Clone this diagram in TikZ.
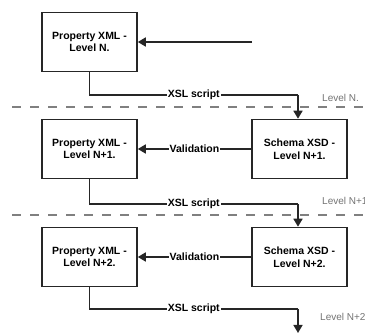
\documentclass[tikz,border=0pt]{standalone}
\usepackage{fontspec}
\setmainfont{Liberation Sans}
\usetikzlibrary{arrows.meta}
\begin{document}
\begin{tikzpicture}[x=1pt,y=-1pt,
  box/.style={draw=black!85,line width=1.6pt,minimum width=95pt,minimum height=59pt,align=center,inner sep=0pt,font=\fontsize{10.5}{12.8}\selectfont\bfseries},
  conn/.style={draw=black!85,line width=1.7pt},
  arr/.style={conn,-{Triangle[length=8pt,width=9pt]}},
  lbl/.style={fill=white,inner sep=1pt,font=\fontsize{10.5}{12}\selectfont\bfseries},
  lev/.style={anchor=west,text=black!55,inner sep=0pt,font=\fontsize{10}{12}\selectfont},
  sep/.style={draw=black!50,line width=1.2pt,dash pattern=on 9pt off 9pt}]
\useasboundingbox (0,0) rectangle (365,334);
\node[box] (p1) at (89.5,42) {Property XML -\\Level N.};
\node[box] (p2) at (89.5,149) {Property XML -\\Level N+1.};
\node[box] (p3) at (89.5,257) {Property XML -\\Level N+2.};
\node[box] (s2) at (299.5,149) {Schema XSD -\\Level N+1.};
\node[box] (s3) at (299.5,257) {Schema XSD -\\Level N+2.};
\coordinate (in) at (252,42);
\coordinate (c1) at (298,95);
\coordinate (c2) at (298,204);
\coordinate (c3) at (298,309);
\coordinate (end) at (298,333);
\coordinate (d1a) at (12,107);
\coordinate (d1b) at (365,107);
\coordinate (d2a) at (12,215);
\coordinate (d2b) at (365,215);
\draw[sep] (d1a) -- (d1b);
\draw[sep] (d2a) -- (d2b);
\draw[arr] (in) -- (p1.east);
\draw[conn] (p1.south) |- node[pos=0.75,lbl]{XSL script} (c1);
\draw[arr] (c1) -- (s2.north-|c1);
\draw[conn] (p2.south) |- node[pos=0.75,lbl]{XSL script} (c2);
\draw[arr] (c2) -- (s3.north-|c2);
\draw[conn] (p3.south) |- node[pos=0.75,lbl]{XSL script} (c3);
\draw[arr] (c3) -- (end);
\draw[arr] (s2.west) -- node[lbl]{Validation} (p2.east);
\draw[arr] (s3.west) -- node[lbl]{Validation} (p3.east);
\node[lev] (l1) at (322,97.5) {Level N.};
\node[lev] (l2) at (322,201) {Level N+1.};
\node[lev] (l3) at (320,317) {Level N+2.};
\end{tikzpicture}
\end{document}
